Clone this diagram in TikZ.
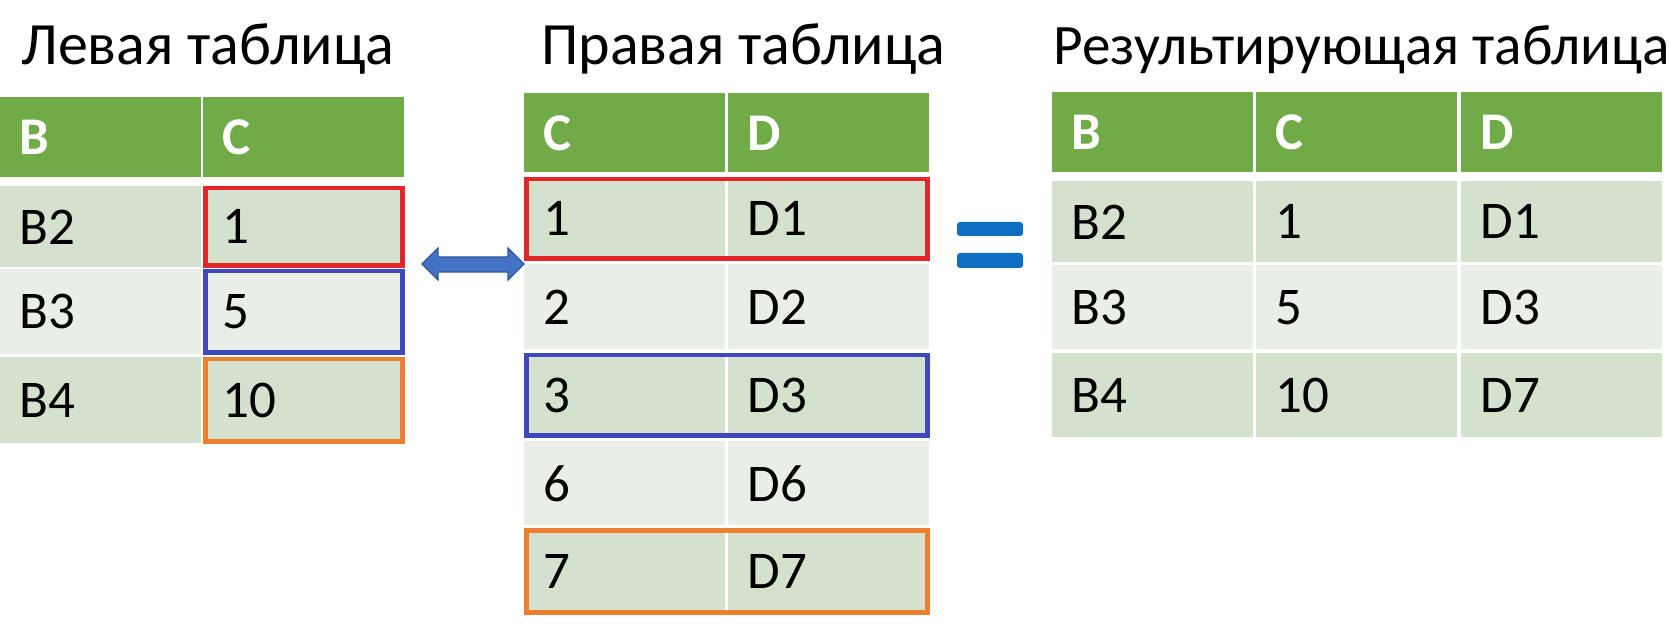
\documentclass[tikz,border=0pt]{standalone}
\usepackage{fontspec}
\setmainfont{Carlito}
\usetikzlibrary{fit}
\definecolor{hdgreen}{HTML}{70AB48}
\definecolor{rowdark}{HTML}{D4E2CD}
\definecolor{rowlight}{HTML}{E9EEE7}
\definecolor{boxred}{HTML}{E2262B}
\definecolor{boxblue}{HTML}{3F48BE}
\definecolor{boxorange}{HTML}{EE7F31}
\definecolor{arrfill}{HTML}{4472C4}
\definecolor{arredge}{HTML}{2F5597}
\definecolor{eqblue}{HTML}{0F6EC0}
\newcommand{\cellfont}{\fontsize{26.5}{31}\selectfont}
\newcommand{\titlefont}{\fontsize{30}{36}\selectfont}
\newcommand{\titlefontR}{\fontsize{28.6}{34}\selectfont}
\tikzset{
  cellbase/.style={anchor=north west, text width=81.5pt, inner xsep=9.5pt, inner ysep=0pt, align=left, font=\cellfont},
  hd/.style={cellbase, fill=hdgreen, text=white, font=\cellfont\bfseries},
  dk/.style={cellbase, fill=rowdark},
  lt/.style={cellbase, fill=rowlight},
  hl/.style={draw=#1, line width=2.25pt, inner sep=-1.125pt},
  ttl/.style={anchor=base west, inner sep=0pt, font=\titlefont},
  eqbar/.style={fill=eqblue, rounded corners=1.5pt}
}
\begin{document}
\begin{tikzpicture}[x=0.5pt,y=-0.5pt]
\useasboundingbox (0,0) rectangle (1669,624);
% titles
\node[ttl] (tL) at (21,65) {Левая таблица};
\node[ttl] (tM) at (541,65) {Правая таблица};
\node[ttl, font=\titlefontR] (tR) at (1053,65) {Результирующая таблица};
% left table
\node[hd, minimum height=40pt] (Lh1) at (0,97) {B};
\node[hd, minimum height=40pt] (Lh2) at (203,97) {C};
\node[dk, minimum height=40.5pt] (L1a) at (0,186) {B2};
\node[dk, minimum height=40.5pt] (L1b) at (203,186) {1};
\node[lt, minimum height=42.5pt] (L2a) at (0,269) {B3};
\node[lt, minimum height=42.5pt] (L2b) at (203,269) {5};
\node[dk, minimum height=43pt] (L3a) at (0,357) {B4};
\node[dk, minimum height=43pt] (L3b) at (203,357) {10};
% middle table
\node[hd, minimum height=39.5pt] (Mh1) at (524,93) {C};
\node[hd, minimum height=39.5pt] (Mh2) at (728,93) {D};
\node[dk, minimum height=41.5pt] (M1a) at (524,177) {1};
\node[dk, minimum height=41.5pt] (M1b) at (728,177) {D1};
\node[lt, minimum height=42.5pt] (M2a) at (524,264) {2};
\node[lt, minimum height=42.5pt] (M2b) at (728,264) {D2};
\node[dk, minimum height=42pt] (M3a) at (524,353) {3};
\node[dk, minimum height=42pt] (M3b) at (728,353) {D3};
\node[lt, minimum height=42pt] (M4a) at (524,441) {6};
\node[lt, minimum height=42pt] (M4b) at (728,441) {D6};
\node[dk, minimum height=43pt] (M5a) at (524,528) {7};
\node[dk, minimum height=43pt] (M5b) at (728,528) {D7};
% right table
\node[hd, minimum height=40pt] (Rh1) at (1052,92) {B};
\node[hd, minimum height=40pt] (Rh2) at (1256,92) {C};
\node[hd, minimum height=40pt] (Rh3) at (1461,92) {D};
\node[dk, minimum height=40.5pt] (R1a) at (1052,181) {B2};
\node[dk, minimum height=40.5pt] (R1b) at (1256,181) {1};
\node[dk, minimum height=40.5pt] (R1c) at (1461,181) {D1};
\node[lt, minimum height=42pt] (R2a) at (1052,265) {B3};
\node[lt, minimum height=42pt] (R2b) at (1256,265) {5};
\node[lt, minimum height=42pt] (R2c) at (1461,265) {D3};
\node[dk, minimum height=42pt] (R3a) at (1052,353) {B4};
\node[dk, minimum height=42pt] (R3b) at (1256,353) {10};
\node[dk, minimum height=42pt] (R3c) at (1461,353) {D7};
% highlight boxes
\node[hl=boxred, fit=(L1b)] (bxL1) {};
\node[hl=boxblue, fit=(L2b)] (bxL2) {};
\node[hl=boxorange, fit=(L3b)] (bxL3) {};
\node[hl=boxred, fit=(M1a)(M1b)] (bxM1) {};
\node[hl=boxblue, fit=(M3a)(M3b)] (bxM3) {};
\node[hl=boxorange, fit=(M5a)(M5b)] (bxM5) {};
% double arrow
\filldraw[fill=arrfill, draw=arredge, line width=0.6pt, line join=miter]
  (422,264) -- (438,248) -- (438,257) -- (508,257) -- (508,248) -- (524,264)
  -- (508,280) -- (508,272) -- (438,272) -- (438,280) -- cycle;
% equals sign
\fill[eqbar] (957,222) rectangle (1023,236);
\fill[eqbar] (957,253) rectangle (1023,268);
\end{tikzpicture}
\end{document}
